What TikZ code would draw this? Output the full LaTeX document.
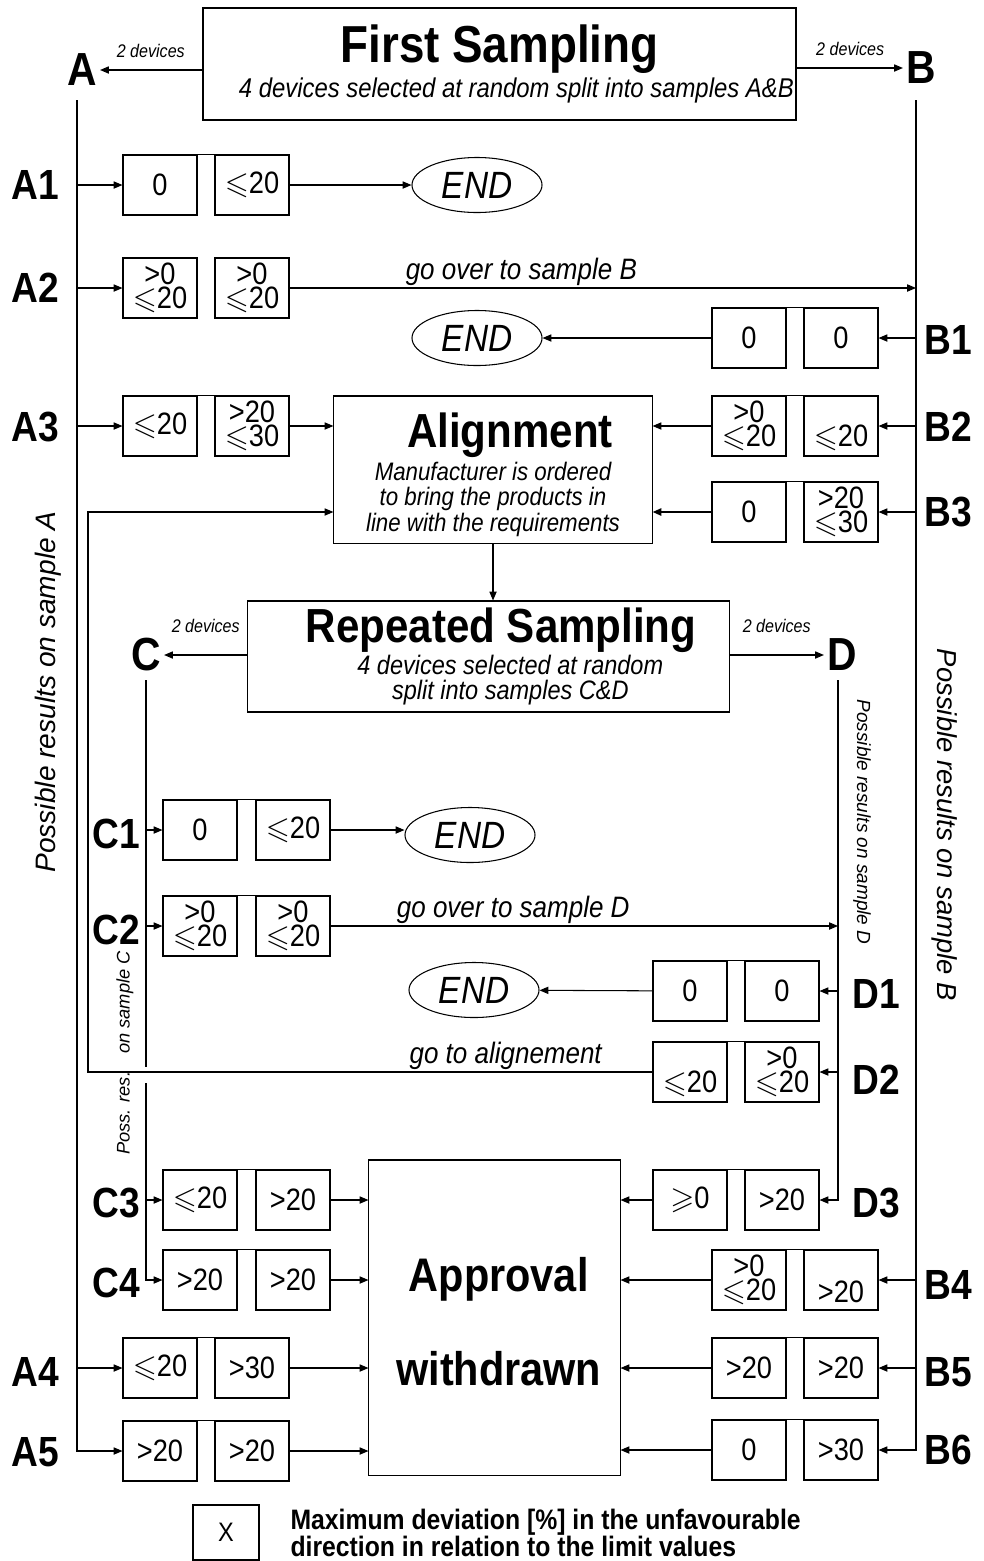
\documentclass[tikz,border=0pt]{standalone}
\usepackage{amssymb}
\usepackage{fontspec}
\setmainfont{Liberation Sans}[FakeStretch=0.88]
\newfontfamily\widesans{Liberation Sans}
\usetikzlibrary{arrows.meta, shapes.geometric}
\newcommand\leqsl{$\leqslant$}
\newcommand\geqsl{$\geqslant$}
\tikzset{
  every picture/.style={line width=0.75pt},
  val/.style={draw, minimum width=1.85cm, minimum height=1.5cm, inner sep=0pt, align=center, font=\fontsize{22}{17}\selectfont},
  frame/.style={draw, align=center, inner sep=0pt},
  stopnode/.style={draw, ellipse, minimum width=3.25cm, minimum height=1.375cm, inner sep=0pt, font=\fontsize{27}{30}\selectfont\itshape},
  arrow/.style={-{Triangle[length=2.2mm, width=1.8mm]}},
  rowlbl/.style={font=\fontsize{30}{32}\selectfont\bfseries, inner sep=0pt},
  sample/.style={font=\fontsize{33}{35}\selectfont\bfseries, inner sep=2pt},
  note/.style={font=\fontsize{13}{15}\selectfont\itshape},
  golbl/.style={font=\fontsize{21}{23}\selectfont\itshape, inner sep=1pt},
  side/.style={font=\widesans\itshape\fontsize{#1}{#1}\selectfont},
}

\begin{document}
\begin{tikzpicture}[x=0.025cm, y=-0.025cm]
  \useasboundingbox (0,0) rectangle (984,1561);
  % first sampling
  \node[frame, line width=2pt, minimum width=14.825cm, minimum height=2.8cm, font=\fontsize{19.3}{22}\selectfont\itshape] (fs) at (499.5,64)
    {{\fontsize{37}{40}\selectfont\upshape\bfseries First Sampling}\\[3pt]\hspace*{24pt}4 devices selected at random split into samples A\&B};
  \node[sample] (A) at (82,70) {A};
  \node[sample] (B) at (921,68) {B};
  \draw[arrow] (fs.west |- A) -- (A) node[midway, above=5pt, note] {2 devices};
  \draw[arrow] (fs.east |- B) -- (B) node[midway, above=5pt, note] {2 devices};
  \coordinate (Aline) at (77,100);
  \coordinate (Bline) at (916,100);
  \node[side=20, rotate=90] (sideA) at (48,692) {Possible results on sample A};
  \node[side=19.5, rotate=-90] (sideB) at (945,825) {Possible results on sample B};

  % A1
  \node[rowlbl] (lA1) at (35,185) {A1};
  \node[val] (A1L) at (160,185) {0};
  \node[val] (A1R) at (252,185) {\leqsl20};
  \node[stopnode] (endA) at (477,185) {END};
  \draw[arrow] (Aline |- A1L) -- (A1L);
  \draw[arrow] (A1R) -- (endA);
  % A2
  \node[rowlbl] (lA2) at (35,288) {A2};
  \node[val] (A2L) at (160,288) {>0\\\leqsl20};
  \node[val] (A2R) at (252,288) {>0\\\leqsl20};
  \draw[arrow] (Aline |- A2L) -- (A2L);
  \draw[arrow] (A2R) -- (Bline |- A2R) node[pos=.37, above, golbl] {go over to sample B};
  % B1
  \node[rowlbl] (lB1) at (948,340) {B1};
  \node[val] (B1L) at (749,338) {0};
  \node[val] (B1R) at (841,338) {0};
  \node[stopnode] (endB) at (477,338) {END};
  \draw[arrow] (Bline |- B1R) -- (B1R);
  \draw[arrow] (B1L) -- (endB);

  % alignment
  \node[frame, minimum width=7.95cm, minimum height=3.675cm, font=\fontsize{18}{18}\selectfont\itshape] (align) at (493,469.5)
    {\rule{0pt}{32pt}\hspace*{24pt}{\fontsize{34}{36}\selectfont\upshape\bfseries Alignment}\\[2pt]Manufacturer is ordered\\to bring the products in\\line with the requirements};
  % A3
  \node[rowlbl] (lA3) at (35,427) {A3};
  \node[val] (A3L) at (160,426) {\leqsl20};
  \node[val] (A3R) at (252,426) {>20\\\leqsl30};
  \draw[arrow] (Aline |- A3L) -- (A3L);
  \draw[arrow] (A3R) -- (align.west |- A3R);
  % B2
  \node[rowlbl] (lB2) at (948,427) {B2};
  \node[val] (B2L) at (749,426) {>0\\\leqsl20};
  \node[val] (B2R) at (841,426) {\phantom{>0}\\\leqsl20};
  \draw[arrow] (Bline |- B2R) -- (B2R);
  \draw[arrow] (B2L) -- (align.east |- B2L);
  % B3
  \node[rowlbl] (lB3) at (948,512) {B3};
  \node[val] (B3L) at (749,512) {0};
  \node[val] (B3R) at (841,512) {>20\\\leqsl30};
  \draw[arrow] (Bline |- B3R) -- (B3R);
  \draw[arrow, line width=1.4pt] (B3L) -- (align.east |- B3L);

  % repeated sampling
  \node[frame, minimum width=12.025cm, minimum height=2.775cm, font=\fontsize{19}{18}\selectfont\itshape] (rs) at (488.5,656.5)
    {\hspace*{18pt}{\fontsize{34}{36}\selectfont\upshape\bfseries Repeated Sampling}\\[1pt]\hspace*{31pt}4 devices selected at random\\\hspace*{31pt}split into samples C\&D};
  \draw[arrow] (align.south) -- (align.south |- rs.north);
  \node[sample] (C) at (146,655) {C};
  \node[sample] (D) at (842,655) {D};
  \draw[arrow] (rs.west |- C) -- (C) node[midway, above=12pt, note] {2 devices};
  \draw[arrow] (rs.east |- D) -- (D) node[midway, above=12pt, note] {2 devices};
  \coordinate (Cline) at (146,680);
  \coordinate (Cgap) at (146,1067);
  \coordinate (Cgap2) at (146,1083);
  \coordinate (Dline) at (838,680);
  \node[side=13, rotate=90] (sideC) at (125,1053) {Poss. res.\hspace{8pt} on sample C};
  \node[side=13.5, rotate=-90] (sideD) at (862,822) {Possible results on sample D};

  % C1
  \node[rowlbl] (lC1) at (116,834) {C1};
  \node[val] (C1L) at (200,830) {0};
  \node[val] (C1R) at (293,830) {\leqsl20};
  \node[stopnode] (endC) at (470,835) {END};
  \draw[arrow] (Cline |- C1L) -- (C1L);
  \draw[arrow] (C1R) -- (endC.west |- C1R);
  % C2
  \node[rowlbl] (lC2) at (116,930) {C2};
  \node[val] (C2L) at (200,926) {>0\\\leqsl20};
  \node[val] (C2R) at (293,926) {>0\\\leqsl20};
  \draw[arrow] (Cline |- C2L) -- (C2L);
  \draw[arrow] (C2R) -- (Dline |- C2R) node[pos=.36, above, golbl] {go over to sample D};
  % D1
  \node[rowlbl] (lD1) at (876,994) {D1};
  \node[val] (D1L) at (690,991) {0};
  \node[val] (D1R) at (782,991) {0};
  \node[stopnode] (endD) at (474,990) {END};
  \draw[arrow] (Dline |- D1R) -- (D1R);
  \draw[arrow] (D1L) -- (endD);
  % D2
  \node[rowlbl] (lD2) at (876,1080) {D2};
  \node[val] (D2L) at (690,1072) {\phantom{>0}\\\leqsl20};
  \node[val] (D2R) at (782,1072) {>0\\\leqsl20};
  \draw[arrow] (Dline |- D2R) -- (D2R);
  \coordinate (loop) at (88,512);
  \draw[arrow] (D2L) -| (loop) node[pos=.13, above, golbl] {go to alignement} -- (align.west |- loop);

  % approval withdrawn
  \node[frame, minimum width=6.275cm, minimum height=7.875cm, font=\fontsize{33.5}{67}\selectfont\bfseries] (ap) at (494.5,1317.5)
    {\rule{0pt}{30pt}\hspace*{6pt}Approval\\\hspace*{6pt}withdrawn};
  % C3
  \node[rowlbl] (lC3) at (116,1203) {C3};
  \node[val] (C3L) at (200,1200) {\leqsl20};
  \node[val] (C3R) at (293,1200) {>20};
  \draw[arrow] (Cline |- C3L) -- (C3L);
  \draw[arrow] (C3R) -- (ap.west |- C3R);
  % D3
  \node[rowlbl] (lD3) at (876,1203) {D3};
  \node[val] (D3L) at (690,1200) {\geqsl0};
  \node[val] (D3R) at (782,1200) {>20};
  \draw[arrow] (D3L) -- (ap.east |- D3L);
  % C4
  \node[rowlbl] (lC4) at (116,1283) {C4};
  \node[val] (C4L) at (200,1280) {>20};
  \node[val] (C4R) at (293,1280) {>20};
  \draw[arrow] (C4R) -- (ap.west |- C4R);
  % B4
  \node[rowlbl] (lB4) at (948,1285) {B4};
  \node[val] (B4L) at (749,1280) {>0\\\leqsl20};
  \node[val] (B4R) at (841,1280) {\phantom{>0}\\>20};
  \draw[arrow] (Bline |- B4R) -- (B4R);
  \draw[arrow] (B4L) -- (ap.east |- B4L);
  % A4
  \node[rowlbl] (lA4) at (35,1372) {A4};
  \node[val] (A4L) at (160,1368) {\leqsl20};
  \node[val] (A4R) at (252,1368) {>30};
  \draw[arrow] (Aline |- A4L) -- (A4L);
  \draw[arrow] (A4R) -- (ap.west |- A4R);
  % B5
  \node[rowlbl] (lB5) at (948,1372) {B5};
  \node[val] (B5L) at (749,1368) {>20};
  \node[val] (B5R) at (841,1368) {>20};
  \draw[arrow] (Bline |- B5R) -- (B5R);
  \draw[arrow] (B5L) -- (ap.east |- B5L);
  % A5
  \node[rowlbl] (lA5) at (35,1452) {A5};
  \node[val] (A5L) at (160,1451) {>20};
  \node[val] (A5R) at (252,1451) {>20};
  \draw[arrow] (A5R) -- (ap.west |- A5R);
  % B6
  \node[rowlbl] (lB6) at (948,1450) {B6};
  \node[val] (B6L) at (749,1450) {0};
  \node[val] (B6R) at (841,1450) {>30};
  \draw[arrow] (B6L) -- (ap.east |- B6L);

  % sample lines
  \draw[arrow] (Aline) |- (A5L);
  \draw[arrow] (Bline) |- (B6R);
  \draw (Cline) -- (Cgap);
  \draw[arrow] (Cgap2) |- (C4L);
  \draw[arrow] (Dline) |- (D3R);

  % box pairs joined at the top
  \foreach \p in {A1,A3,A4,A5,B1,B2,B3,B4,B5,B6,C1,C2,C3,C4,D1,D2,D3}
    \draw (\p L.north east) -- (\p R.north west);

  % legend
  \node[val, minimum width=1.65cm, minimum height=1.375cm, font=\fontsize{19}{19}\selectfont] (leg) at (226,1532.5) {X};
  \node[anchor=west, align=left, inner sep=0pt, font=\fontsize{20}{19}\selectfont\bfseries] (legtext) at (290,1533)
    {Maximum deviation [\%] in the unfavourable\\direction in relation to the limit values};
\end{tikzpicture}
\end{document}
